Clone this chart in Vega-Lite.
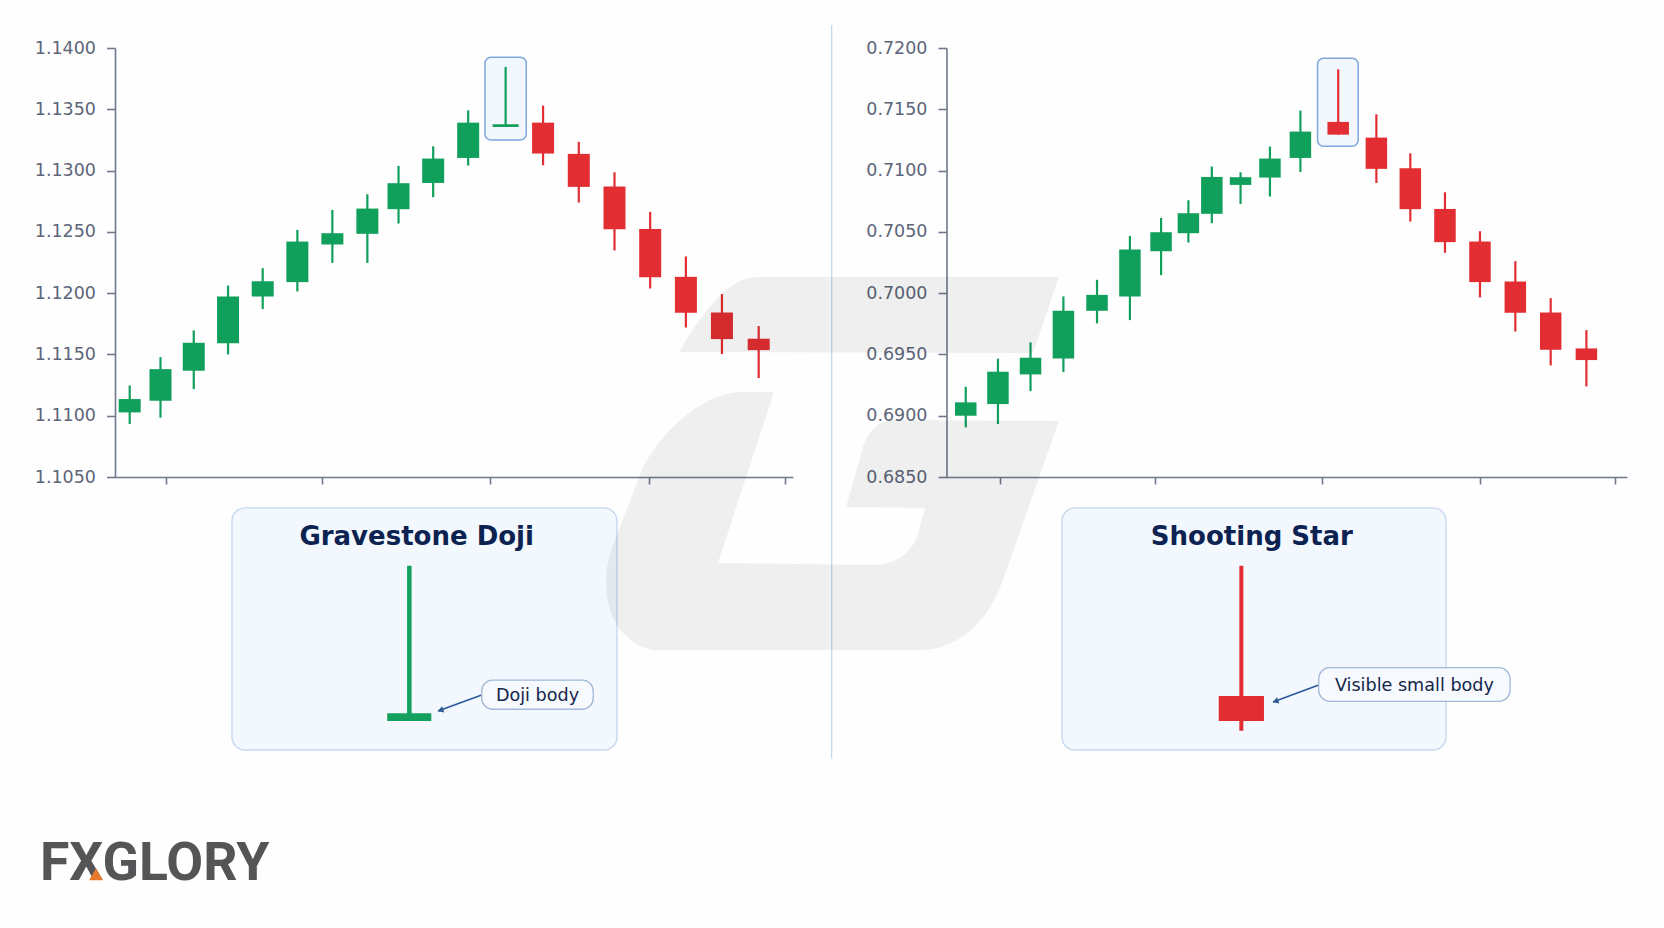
{
  "$schema": "https://vega.github.io/schema/vega-lite/v6.json",
  "width": 1664,
  "height": 928,
  "autosize": "none",
  "padding": 0,
  "background": "#fefefe",
  "config": {
    "view": {"stroke": null},
    "axis": {
      "title": null,
      "grid": false,
      "domainColor": "#6f788c",
      "domainWidth": 1.6,
      "tickColor": "#6f788c",
      "tickWidth": 1.6,
      "labelColor": "#5c6579",
      "labelFont": "DejaVu Sans",
      "labelFontSize": 17.5,
      "labelOverlap": false
    }
  },
  "datasets": {
    "eurusd": [
      {"t": 0.42, "open": 1.11027, "high": 1.11247, "low": 1.10932, "close": 1.11136, "dir": "up"},
      {"t": 1.30, "open": 1.11122, "high": 1.11478, "low": 1.10984, "close": 1.1138, "dir": "up"},
      {"t": 2.25, "open": 1.11367, "high": 1.11696, "low": 1.11217, "close": 1.11595, "dir": "up"},
      {"t": 3.23, "open": 1.11592, "high": 1.12062, "low": 1.115, "close": 1.11973, "dir": "up"},
      {"t": 4.22, "open": 1.11973, "high": 1.12204, "low": 1.1187, "close": 1.12098, "dir": "up"},
      {"t": 5.21, "open": 1.1209, "high": 1.12516, "low": 1.12014, "close": 1.12421, "dir": "up"},
      {"t": 6.21, "open": 1.12397, "high": 1.12679, "low": 1.12247, "close": 1.12489, "dir": "up"},
      {"t": 7.21, "open": 1.12484, "high": 1.12807, "low": 1.12247, "close": 1.1269, "dir": "up"},
      {"t": 8.10, "open": 1.12685, "high": 1.13038, "low": 1.12568, "close": 1.12897, "dir": "up"},
      {"t": 9.09, "open": 1.12899, "high": 1.13198, "low": 1.12783, "close": 1.13098, "dir": "up"},
      {"t": 10.09, "open": 1.13103, "high": 1.13492, "low": 1.13041, "close": 1.13391, "dir": "up"},
      {"t": 12.23, "open": 1.13391, "high": 1.1353, "low": 1.13043, "close": 1.13139, "dir": "down"},
      {"t": 13.25, "open": 1.13136, "high": 1.13234, "low": 1.12739, "close": 1.12867, "dir": "down"},
      {"t": 14.27, "open": 1.1287, "high": 1.12986, "low": 1.12348, "close": 1.12522, "dir": "down"},
      {"t": 15.29, "open": 1.12524, "high": 1.12663, "low": 1.12038, "close": 1.1213, "dir": "down"},
      {"t": 16.31, "open": 1.12133, "high": 1.12299, "low": 1.1172, "close": 1.1184, "dir": "down"},
      {"t": 17.34, "open": 1.11842, "high": 1.11992, "low": 1.11503, "close": 1.11625, "dir": "down"},
      {"t": 18.39, "open": 1.11628, "high": 1.11731, "low": 1.11307, "close": 1.11535, "dir": "down"}
    ],
    "audusd": [
      {"t": 0.55, "open": 0.69, "high": 0.69236, "low": 0.68905, "close": 0.69109, "dir": "up"},
      {"t": 1.47, "open": 0.69095, "high": 0.69465, "low": 0.68932, "close": 0.69359, "dir": "up"},
      {"t": 2.40, "open": 0.69337, "high": 0.69598, "low": 0.69201, "close": 0.69473, "dir": "up"},
      {"t": 3.34, "open": 0.69467, "high": 0.69973, "low": 0.69356, "close": 0.69856, "dir": "up"},
      {"t": 4.30, "open": 0.69856, "high": 0.70109, "low": 0.69753, "close": 0.69986, "dir": "up"},
      {"t": 5.24, "open": 0.69973, "high": 0.70467, "low": 0.6978, "close": 0.70356, "dir": "up"},
      {"t": 6.13, "open": 0.70342, "high": 0.70614, "low": 0.70147, "close": 0.70497, "dir": "up"},
      {"t": 6.91, "open": 0.70489, "high": 0.70758, "low": 0.70413, "close": 0.70652, "dir": "up"},
      {"t": 7.58, "open": 0.70647, "high": 0.71033, "low": 0.70571, "close": 0.70948, "dir": "up"},
      {"t": 8.40, "open": 0.70883, "high": 0.70986, "low": 0.70728, "close": 0.70946, "dir": "up"},
      {"t": 9.24, "open": 0.70943, "high": 0.71196, "low": 0.70788, "close": 0.71098, "dir": "up"},
      {"t": 10.11, "open": 0.71103, "high": 0.71489, "low": 0.70989, "close": 0.71318, "dir": "up"},
      {"t": 11.19, "open": 0.71397, "high": 0.71826, "low": 0.71293, "close": 0.71293, "dir": "down"},
      {"t": 12.28, "open": 0.71269, "high": 0.71459, "low": 0.70899, "close": 0.71014, "dir": "down"},
      {"t": 13.25, "open": 0.71019, "high": 0.71141, "low": 0.70584, "close": 0.70685, "dir": "down"},
      {"t": 14.24, "open": 0.70687, "high": 0.70823, "low": 0.70329, "close": 0.70416, "dir": "down"},
      {"t": 15.24, "open": 0.70421, "high": 0.70505, "low": 0.69965, "close": 0.7009, "dir": "down"},
      {"t": 16.25, "open": 0.70095, "high": 0.70261, "low": 0.69687, "close": 0.6984, "dir": "down"},
      {"t": 17.26, "open": 0.69842, "high": 0.69959, "low": 0.6941, "close": 0.69538, "dir": "down"},
      {"t": 18.28, "open": 0.69549, "high": 0.69698, "low": 0.69239, "close": 0.69454, "dir": "down"}
    ]
  },
  "layer": [
    {
      "encoding": {
        "x": {"field": "x0", "type": "quantitative", "scale": {"domain": [0, 100], "range": [0, 1664], "nice": false, "zero": false}, "axis": null},
        "y": {"field": "y0", "type": "quantitative", "scale": {"domain": [0, 100], "range": [0, 928], "nice": false, "zero": false}, "axis": null}
      },
      "layer": [
        {
          "data": {"values": [
            {"x0": 13.94, "x1": 37.08, "y0": 54.73, "y1": 80.82},
            {"x0": 63.82, "x1": 86.90, "y0": 54.73, "y1": 80.82}
          ]},
          "mark": {"type": "rect", "fill": "#f3f7fe", "stroke": "#c6d8ee", "strokeWidth": 1.4, "cornerRadius": 13},
          "encoding": {"x2": {"field": "x1"}, "y2": {"field": "y1"}}
        },
        {
          "data": {"values": [{"x0": 49.98, "y0": 2.69, "y1": 81.74}]},
          "mark": {"type": "rule", "color": "#c4d7ed", "strokeWidth": 1.2},
          "encoding": {"y2": {"field": "y1"}}
        },
        {
          "data": {"values": [{"x0": 24.60, "y0": 60.96, "y1": 77.69}]},
          "mark": {"type": "rule", "color": "#12a05c", "strokeWidth": 4.5},
          "encoding": {"y2": {"field": "y1"}}
        },
        {
          "data": {"values": [{"x0": 23.27, "x1": 25.92, "y0": 76.87, "y1": 77.69}]},
          "mark": {"type": "rect", "fill": "#12a05c"},
          "encoding": {"x2": {"field": "x1"}, "y2": {"field": "y1"}}
        },
        {
          "data": {"values": [{"x0": 74.60, "y0": 60.96, "y1": 78.74}]},
          "mark": {"type": "rule", "color": "#e22e32", "strokeWidth": 4},
          "encoding": {"y2": {"field": "y1"}}
        },
        {
          "data": {"values": [{"x0": 73.24, "x1": 75.96, "y0": 75.0, "y1": 77.69}]},
          "mark": {"type": "rect", "fill": "#e22e32"},
          "encoding": {"x2": {"field": "x1"}, "y2": {"field": "y1"}}
        },
        {
          "data": {"values": [
            {"x0": 28.95, "y0": 74.89, "x1": 26.32, "y1": 76.62},
            {"x0": 79.25, "y0": 73.81, "x1": 76.50, "y1": 75.65}
          ]},
          "mark": {"type": "rule", "color": "#2b5b97", "strokeWidth": 1.6},
          "encoding": {"x2": {"field": "x1"}, "y2": {"field": "y1"}}
        },
        {
          "data": {"values": [{"x0": 26.47, "y0": 76.54}, {"x0": 76.65, "y0": 75.57}]},
          "mark": {"type": "point", "shape": "triangle-up", "filled": true, "fill": "#2b5b97", "opacity": 1, "size": 45, "angle": 250}
        },
        {
          "data": {"values": [
            {"x0": 28.95, "x1": 35.65, "y0": 73.28, "y1": 76.43},
            {"x0": 79.25, "x1": 90.75, "y0": 71.95, "y1": 75.57}
          ]},
          "mark": {"type": "rect", "fill": "#f6f9fe", "stroke": "#a3b9d8", "strokeWidth": 1.3, "cornerRadius": 11},
          "encoding": {"x2": {"field": "x1"}, "y2": {"field": "y1"}}
        },
        {
          "data": {"values": [
            {"x0": 32.30, "y0": 75.55, "label": "Doji body"},
            {"x0": 85.0, "y0": 74.49, "label": "Visible small body"}
          ]},
          "mark": {"type": "text", "font": "DejaVu Sans", "fontSize": 17.6, "color": "#14264a", "align": "center", "baseline": "alphabetic"},
          "encoding": {"text": {"field": "label"}}
        },
        {
          "data": {"values": [
            {"x0": 25.04, "y0": 58.73, "label": "Gravestone Doji"},
            {"x0": 75.23, "y0": 58.73, "label": "Shooting Star"}
          ]},
          "mark": {"type": "text", "font": "DejaVu Sans", "fontWeight": "bold", "fontSize": 26, "color": "#0c2250", "align": "center", "baseline": "alphabetic"},
          "encoding": {"text": {"field": "label"}}
        },
        {
          "data": {"values": [{"x0": 2.4, "y0": 94.85, "label": "FXGLORY"}]},
          "mark": {"type": "text", "font": "Roboto", "fontWeight": "bold", "fontSize": 53.5, "color": "#555557", "align": "left", "baseline": "alphabetic"},
          "encoding": {"text": {"field": "label"}}
        },
        {
          "data": {"values": [{"x0": 5.77, "y0": 94.2}]},
          "mark": {"type": "point", "shape": "triangle-up", "filled": true, "fill": "#e8792b", "opacity": 1, "size": 190}
        }
      ]
    },
    {
      "data": {"name": "eurusd"},
      "encoding": {
        "x": {"field": "t", "type": "quantitative", "scale": {"domain": [0, 19.37], "range": [115, 793], "nice": false, "zero": false, "padding": 0}, "axis": null},
        "y": {"field": "high", "type": "quantitative", "scale": {"domain": [1.105, 1.14], "range": [477, 48], "nice": false, "zero": false, "padding": 0}, "axis": null}
      },
      "layer": [
        {
          "data": {"values": [{"t": 10.57, "tEnd": 11.75, "high": 1.13925, "low": 1.1325}]},
          "mark": {"type": "rect", "fill": "#f2f7fe", "stroke": "#7ea7dc", "strokeWidth": 1.5, "cornerRadius": 6},
          "encoding": {"x2": {"field": "tEnd"}, "y2": {"field": "low"}}
        },
        {
          "mark": {"type": "rule", "strokeWidth": 2.2},
          "encoding": {
            "y2": {"field": "low"},
            "color": {"field": "dir", "type": "nominal", "scale": {"domain": ["up", "down"], "range": ["#10a05b", "#e22e32"]}, "legend": null}
          }
        },
        {
          "mark": {"type": "bar", "width": 22},
          "encoding": {
            "y": {"field": "open", "type": "quantitative", "axis": null},
            "y2": {"field": "close"},
            "color": {"field": "dir", "type": "nominal", "legend": null}
          }
        },
        {
          "data": {"values": [{"t": 11.16, "high": 1.13845, "low": 1.13365}]},
          "mark": {"type": "rule", "strokeWidth": 2.2, "color": "#10a05b"},
          "encoding": {"y2": {"field": "low"}}
        },
        {
          "data": {"values": [{"t": 11.16, "open": 1.13378, "close": 1.13356}]},
          "mark": {"type": "bar", "width": 26, "color": "#10a05b"},
          "encoding": {
            "y": {"field": "open", "type": "quantitative", "axis": null},
            "y2": {"field": "close"}
          }
        }
      ]
    },
    {
      "data": {"values": [{"tick": 1.46, "price": 1.105}, {"tick": 5.91, "price": 1.14}]},
      "mark": {"type": "point", "opacity": 0, "size": 1},
      "encoding": {
        "x": {"field": "tick", "type": "quantitative", "scale": {"domain": [0, 19.37], "range": [115, 793], "nice": false, "zero": false},
          "axis": {"orient": "bottom", "offset": -451, "values": [1.46, 5.91, 10.71, 15.26, 19.14], "labels": false, "tickSize": 7}},
        "y": {"field": "price", "type": "quantitative", "scale": {"domain": [1.105, 1.14], "range": [477, 48], "nice": false, "zero": false},
          "axis": {"orient": "left", "offset": -115, "values": [1.105, 1.11, 1.115, 1.12, 1.125, 1.13, 1.135, 1.14], "format": ".4f", "tickSize": 8.5, "labelPadding": 11}}
      }
    },
    {
      "data": {"name": "audusd"},
      "encoding": {
        "x": {"field": "t", "type": "quantitative", "scale": {"domain": [0, 19.44], "range": [946.5, 1627], "nice": false, "zero": false, "padding": 0}, "axis": null},
        "y": {"field": "high", "type": "quantitative", "scale": {"domain": [0.685, 0.72], "range": [477, 48], "nice": false, "zero": false, "padding": 0}, "axis": null}
      },
      "layer": [
        {
          "data": {"values": [{"t": 10.6, "tEnd": 11.76, "high": 0.71916, "low": 0.71198}]},
          "mark": {"type": "rect", "fill": "#f2f7fe", "stroke": "#7ea7dc", "strokeWidth": 1.5, "cornerRadius": 6},
          "encoding": {"x2": {"field": "tEnd"}, "y2": {"field": "low"}}
        },
        {
          "mark": {"type": "rule", "strokeWidth": 2.2},
          "encoding": {
            "y2": {"field": "low"},
            "color": {"field": "dir", "type": "nominal", "scale": {"domain": ["up", "down"], "range": ["#10a05b", "#e22e32"]}, "legend": null}
          }
        },
        {
          "mark": {"type": "bar", "width": 21.5},
          "encoding": {
            "y": {"field": "open", "type": "quantitative", "axis": null},
            "y2": {"field": "close"},
            "color": {"field": "dir", "type": "nominal", "legend": null}
          }
        }
      ]
    },
    {
      "data": {"values": [{"tick": 1.52, "price": 0.685}, {"tick": 5.97, "price": 0.72}]},
      "mark": {"type": "point", "opacity": 0, "size": 1},
      "encoding": {
        "x": {"field": "tick", "type": "quantitative", "scale": {"domain": [0, 19.44], "range": [946.5, 1627], "nice": false, "zero": false},
          "axis": {"orient": "bottom", "offset": -451, "values": [1.52, 5.97, 10.73, 15.23, 19.09], "labels": false, "tickSize": 7}},
        "y": {"field": "price", "type": "quantitative", "scale": {"domain": [0.685, 0.72], "range": [477, 48], "nice": false, "zero": false},
          "axis": {"orient": "left", "offset": -946.5, "values": [0.685, 0.69, 0.695, 0.7, 0.705, 0.71, 0.715, 0.72], "format": ".4f", "tickSize": 8.5, "labelPadding": 11}}
      }
    },
    {
      "data": {"values": [{"x0": 50, "y0": 50}]},
      "mark": {
        "type": "point",
        "filled": true,
        "fill": "#000000",
        "opacity": 0.06,
        "size": 4,
        "shape": "M-153,-112 C-130,-150 -105,-187 -75,-187 L227,-187 L201,-111 Z M-58,-72 L-89,-72 C-125,-72 -165,-40 -189,3 L-222,89 C-232,125 -225,175 -180,186 L88,186 C118,186 152,168 171,116 L227,-43 L61,-44 C45,-44 35,-30 31,-17 L14,43 L93,44 L85,73 C78,90 62,101 41,101 L-114,99 Z"
      },
      "encoding": {
        "x": {"field": "x0", "type": "quantitative", "scale": {"domain": [0, 100], "range": [0, 1664], "nice": false, "zero": false}, "axis": null},
        "y": {"field": "y0", "type": "quantitative", "scale": {"domain": [0, 100], "range": [0, 928], "nice": false, "zero": false}, "axis": null}
      }
    }
  ],
  "resolve": {"scale": {"x": "independent", "y": "independent", "color": "independent"}}
}
